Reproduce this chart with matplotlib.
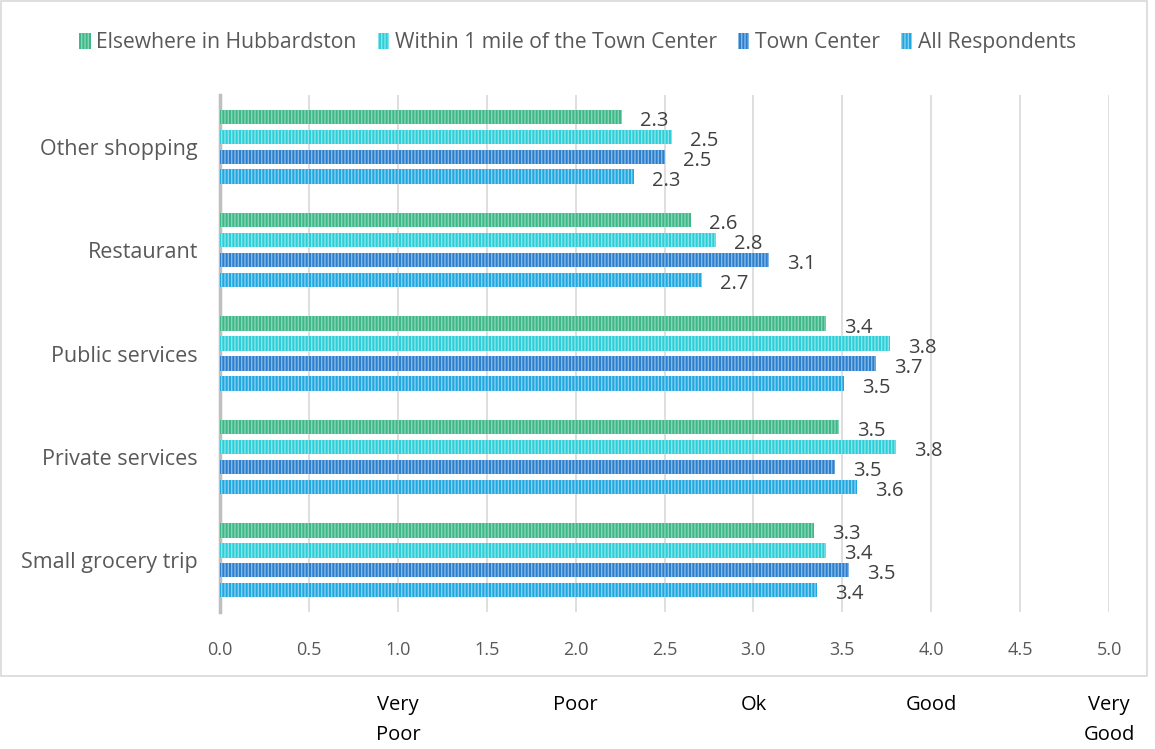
import matplotlib.pyplot as plt
import numpy as np
from matplotlib.patches import Rectangle
import matplotlib.transforms as mtransforms

plt.rcParams['font.family'] = ['Open Sans', 'DejaVu Sans']
plt.rcParams['hatch.linewidth'] = 1.0

categories = ['Small grocery trip', 'Private services', 'Public services', 'Restaurant', 'Other shopping']
series = ['Elsewhere in Hubbardston', 'Within 1 mile of the Town Center', 'Town Center', 'All Respondents']
elsewhere = [3.34, 3.48, 3.41, 2.65, 2.26]
within_1mi = [3.41, 3.80, 3.77, 2.79, 2.54]
town_center = [3.54, 3.46, 3.69, 3.09, 2.50]
all_resp = [3.36, 3.58, 3.51, 2.71, 2.33]
xticks = [0.0, 0.5, 1.0, 1.5, 2.0, 2.5, 3.0, 3.5, 4.0, 4.5, 5.0]
scale_pos = [1, 2, 3, 4, 5]
scale_labels = ['Very\nPoor', 'Poor', 'Ok', 'Good', 'Very\nGood']

face_colors = ['#3db888', '#2ccfd8', '#2b7fcf', '#1fa8e0']
stripe_colors = ['#8ad4b6', '#88e4e9', '#88b8e4', '#88d0f2']

fig = plt.figure(figsize=(11.55, 7.49), dpi=100)
ax = fig.add_axes([0.1905, 0.183, 0.7697, 0.690])

# outer chart border
fig.patches.append(Rectangle((0.001, 0.0975), 0.992, 0.9012, transform=fig.transFigure,
                             fill=False, edgecolor='#d9d9d9', linewidth=1.2))

y = np.arange(len(categories))
slot = 0.193
height = 0.14
all_vals = [elsewhere, within_1mi, town_center, all_resp]
offsets = [1.5, 0.5, -0.5, -1.5]
for vals, off, fc, sc, name in zip(all_vals, offsets, face_colors, stripe_colors, series):
    bars = ax.barh(y + off * slot, vals, height=height, color=fc, edgecolor=sc,
                   hatch='|||||', linewidth=0, label=name, zorder=3)
    for b, v in zip(bars, vals):
        ax.annotate(f'{v:.1f}', (v, b.get_y() + b.get_height() / 2),
                    xytext=(13, -3), textcoords='offset points',
                    ha='left', va='center', fontsize=14.5, color='#404040', zorder=4)

ax.set_xlim(0, 5)
ax.set_ylim(-0.5, 4.5)
ax.set_xticks(xticks)
ax.set_xticklabels([f'{t:.1f}' for t in xticks], fontsize=13, color='#595959')
ax.set_yticks(y)
ax.set_yticklabels(categories, fontsize=15.5, color='#595959')
ax.tick_params(axis='both', length=0)
ax.tick_params(axis='x', pad=21)
ax.tick_params(axis='y', pad=16)
ax.grid(axis='x', color='#d9d9d9', linewidth=1.2, zorder=0)
for s in ['top', 'right', 'bottom']:
    ax.spines[s].set_visible(False)
ax.spines['left'].set_color('#bfbfbf')
ax.spines['left'].set_linewidth(2.5)

leg = fig.legend(loc='center', bbox_to_anchor=(0.5, 0.943), ncol=4, frameon=False,
                 fontsize=15.2, handlelength=0.55, handleheight=0.8, handletextpad=0.25,
                 columnspacing=1.0)
for t in leg.get_texts():
    t.set_color('#595959')

trans = mtransforms.blended_transform_factory(ax.transData, fig.transFigure)
for p, lab in zip(scale_pos, scale_labels):
    ax.text(p, 0.072, lab, transform=trans, ha='center', va='top', fontsize=14.5,
            color='#000000', linespacing=1.65)

fig.savefig('out.png', dpi=100)
